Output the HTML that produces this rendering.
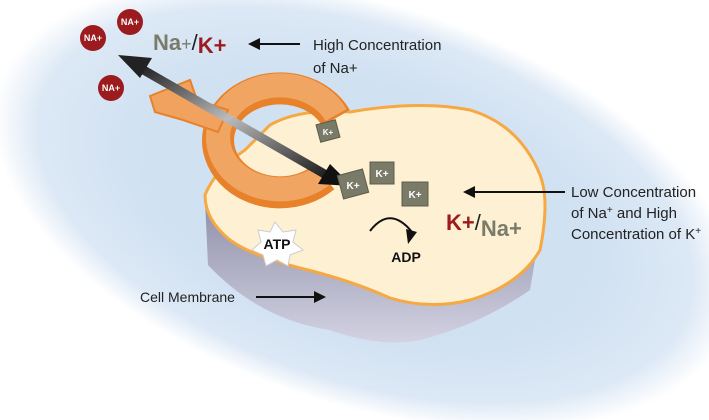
<!DOCTYPE html>
<html><head><style>html,body{margin:0;background:#fff;overflow:hidden;width:709px;height:420px}svg{display:block}text{font-family:"Liberation Sans",sans-serif}</style></head><body>
<svg width="709" height="420" viewBox="0 0 709 420">
<defs>
<radialGradient id="bg" cx="0.5" cy="0.5" r="0.5"><stop offset="0.6" stop-color="#d0e1f2"/><stop offset="0.88" stop-color="#dce8f5"/><stop offset="1" stop-color="#fff"/></radialGradient>
<linearGradient id="ar" x1="0" y1="0" x2="1" y2="1"><stop offset="0" stop-color="#222"/><stop offset="0.45" stop-color="#bbb"/><stop offset="1" stop-color="#111"/></linearGradient>
<linearGradient id="side" x1="0" y1="0" x2="0" y2="1"><stop offset="0" stop-color="#8f8ea8"/><stop offset="1" stop-color="#d2d2e2"/></linearGradient>
</defs>
<rect width="709" height="420" fill="#fff"/>
<ellipse cx="365" cy="205" rx="385" ry="200" transform="rotate(18 365 205)" fill="url(#bg)"/>
<path d="M205,200 L208,265 Q260,320 330,330 Q380,348 420,340 Q480,325 530,290 L545,200 Z" fill="url(#side)"/>
<path d="M205,195 Q215,170 245,150 L270,125 Q300,108 350,112 Q420,100 470,110 Q520,125 540,175 Q550,200 540,250 Q520,285 470,300 Q430,310 390,298 Q350,280 300,268 Q250,255 230,240 Q205,220 205,195 Z" fill="#fef1d3" stroke="#f6a843" stroke-width="3"/>
<path d="M336,118 A62,52 0 1 0 324,177" fill="none" stroke="#e8822a" stroke-width="32"/>
<path d="M336,115 A62,52 0 1 0 324,174" fill="none" stroke="#f1a563" stroke-width="24"/>
<polygon points="150,96 190,80 197,100 228,110 218,132 183,120 155,112" fill="#f0a25e" stroke="#e8822a" stroke-width="2"/>
<line x1="335" y1="180" x2="140" y2="68" stroke="url(#ar)" stroke-width="9"/>
<polygon points="118,55 152,58 140,78" fill="#222"/>
<polygon points="352,186 318,184 330,164" fill="#111"/>
<g fill="#7a7a68" stroke="#5c5c4c">
<rect x="318" y="122" width="20" height="18" transform="rotate(-15 328 131)"/>
<rect x="340" y="172" width="26" height="24" transform="rotate(-15 353 184)"/>
<rect x="370" y="162" width="24" height="22"/>
<rect x="402" y="182" width="26" height="24"/>
</g>
<g fill="#fff" font-size="10" font-weight="bold" text-anchor="middle">
<text x="328" y="135" font-size="8">K+</text><text x="353" y="189">K+</text><text x="382" y="177">K+</text><text x="415" y="198">K+</text></g>
<g fill="#9b1b1e"><circle cx="93" cy="38" r="13"/><circle cx="130" cy="22" r="13"/><circle cx="111" cy="88" r="13"/></g>
<g fill="#fff" font-size="9" font-weight="bold" text-anchor="middle"><text x="93" y="41">NA+</text><text x="130" y="25">NA+</text><text x="111" y="91">NA+</text></g>
<text x="153" y="50" font-size="22" font-weight="bold" fill="#7b7b6a">Na<tspan font-weight="normal" font-size="18">+</tspan><tspan fill="#222" font-weight="normal">/</tspan><tspan fill="#9b1b1e" dy="3">K+</tspan></text>
<line x1="300" y1="44" x2="255" y2="44" stroke="#111" stroke-width="2"/><polygon points="248,44 260,38 260,50" fill="#111"/>
<text x="313" y="50" font-size="15" fill="#222">High Concentration</text>
<text x="313" y="73" font-size="15" fill="#222">of  Na+</text>
<line x1="565" y1="192" x2="470" y2="192" stroke="#111" stroke-width="2"/><polygon points="463,192 475,186 475,198" fill="#111"/>
<text x="571" y="197" font-size="15" fill="#222">Low Concentration</text>
<text x="571" y="218" font-size="15" fill="#222">of  Na<tspan font-size="10" dy="-5">+</tspan><tspan dy="5"> and High</tspan></text>
<text x="571" y="239" font-size="15" fill="#222">Concentration of K<tspan font-size="10" dy="-5">+</tspan></text>
<text x="446" y="230" font-size="22" font-weight="bold" fill="#9b1b1e">K+<tspan fill="#222" font-weight="normal">/</tspan><tspan fill="#7b7b6a" dy="6">Na+</tspan></text>
<polygon points="275,222 283,232 296,230 293,242 303,250 290,255 288,266 277,260 266,266 263,255 252,250 261,242 258,230 270,232" fill="#fff" stroke="#ccc"/>
<text x="277" y="249" font-size="14" font-weight="bold" text-anchor="middle" fill="#111">ATP</text>
<path d="M370,231 Q390,205 412,232" fill="none" stroke="#111" stroke-width="2"/><polygon points="408,244 406,229 417,232" fill="#111"/>
<text x="406" y="262" font-size="14" font-weight="bold" text-anchor="middle" fill="#111">ADP</text>
<text x="140" y="302" font-size="14" fill="#222">Cell Membrane</text>
<line x1="256" y1="297" x2="318" y2="297" stroke="#111" stroke-width="2"/><polygon points="326,297 314,291 314,303" fill="#111"/>
</svg>
</body></html>
